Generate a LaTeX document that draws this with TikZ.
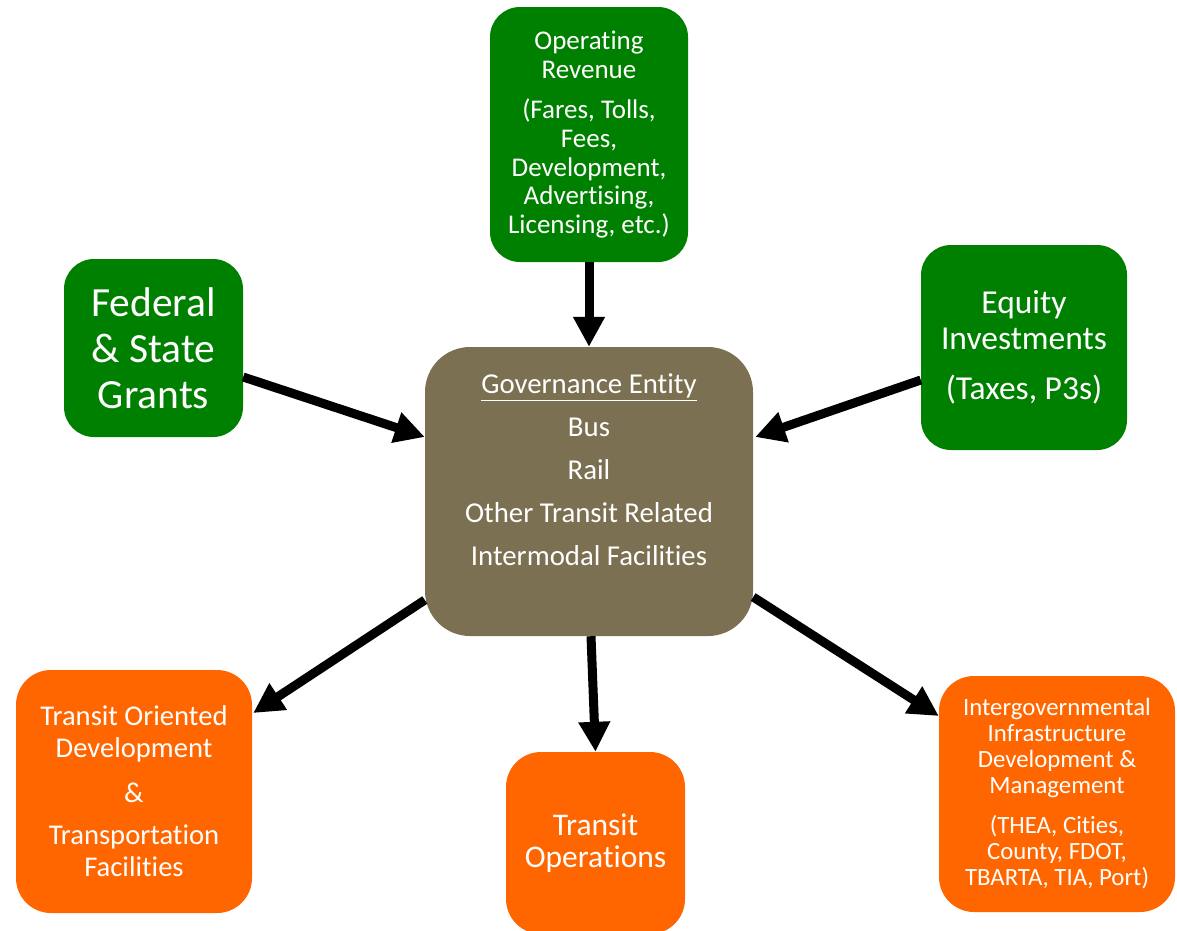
\documentclass[tikz,border=0pt]{standalone}
\usepackage{fontspec}
\setmainfont{Carlito}[Ligatures=NoCommon]
\usetikzlibrary{arrows.meta}
\definecolor{fundgreen}{RGB}{0,128,0}
\definecolor{outorange}{RGB}{255,102,0}
\definecolor{govbrown}{RGB}{124,112,82}
\begin{document}
\begin{tikzpicture}[x=1pt,y=-1pt,
  box/.style={rectangle, rounded corners=30pt, inner sep=0pt, text=white, align=center},
  fundbox/.style={box, fill=fundgreen},
  outbox/.style={box, fill=outorange, rounded corners=35pt},
  flow/.style={line width=9pt, -{Triangle[length=30pt,width=30pt]}}]
\useasboundingbox (0,0) rectangle (1177,930);
% funding sources
\node[fundbox, minimum width=198pt, minimum height=255pt, font=\fontsize{27}{28.7}\selectfont] (oprev) at (589,134.5)
  {Operating\\Revenue\\[12pt](Fares, Tolls,\\Fees,\\Development,\\Advertising,\\Licensing, etc.)};
\node[fundbox, minimum width=179pt, minimum height=178pt, font=\fontsize{41.5}{46}\selectfont] (grants) at (153.5,348)
  {Federal\\\& State\\Grants};
\node[fundbox, minimum width=206pt, minimum height=205pt, font=\fontsize{33.5}{36}\selectfont] (equity) at (1024,347.5)
  {Equity\\Investments\\[14pt](Taxes, P3s)};
% governance entity
\node[box, fill=govbrown, rounded corners=45pt, minimum width=328pt, minimum height=289pt, font=\fontsize{28.8}{43}\selectfont] (gov) at (589,491.5)
  {\underline{Governance Entity}\\Bus\\Rail\\Other Transit Related\\Intermodal Facilities\\\mbox{}};
% outlets
\node[outbox, minimum width=236pt, minimum height=243pt, font=\fontsize{28.6}{32}\selectfont] (tod) at (134,791.5)
  {Transit Oriented\\Development\\[13pt]\&\\[10pt]Transportation\\Facilities};
\node[outbox, minimum width=179pt, minimum height=182pt, font=\fontsize{31.5}{32}\selectfont] (ops) at (595.5,843)
  {Transit\\Operations};
\node[outbox, minimum width=236pt, minimum height=236pt, font=\fontsize{24.8}{26}\selectfont] (igov) at (1057,794)
  {Intergovernmental\\Infrastructure\\Development \&\\Management\\[14pt](THEA, Cities,\\County, FDOT,\\TBARTA, TIA, Port)};
% flows
\draw[flow] (oprev.south) -- (gov.north);
\draw[flow] ([yshift=-29pt]grants.east) -- ([yshift=54.5pt]gov.west);
\draw[flow] ([yshift=-32.5pt]equity.west) -- ([xshift=2pt,yshift=54.5pt]gov.east);
\draw[flow] ([yshift=-108.5pt]gov.west) -- ([xshift=1pt,yshift=78.5pt]tod.east);
\draw[flow] ([xshift=2pt]gov.south) -- (ops.north);
\draw[flow] ([yshift=-105.5pt]gov.east) -- ([yshift=78pt]igov.west);
\end{tikzpicture}
\end{document}
